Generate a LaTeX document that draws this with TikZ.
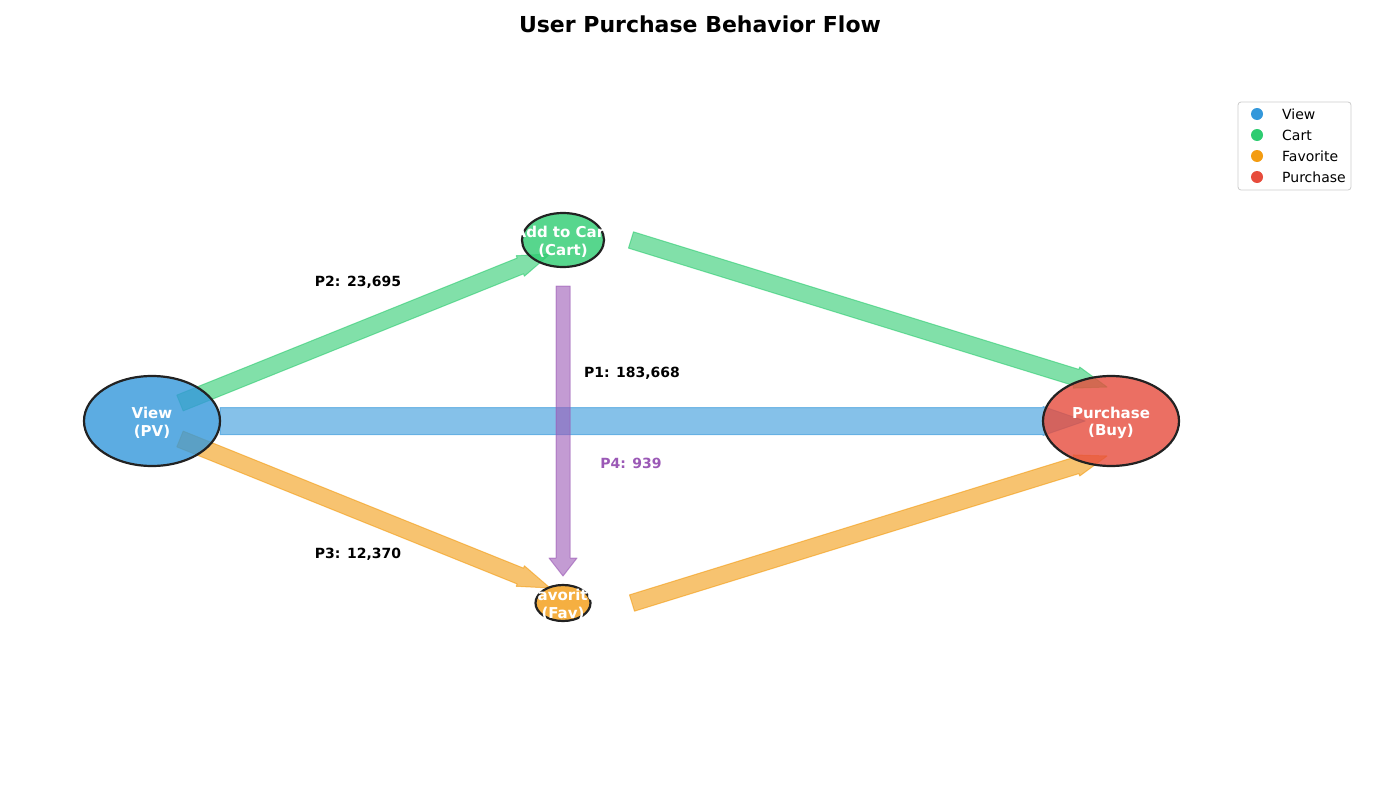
\documentclass[tikz,border=0pt]{standalone}
\usepackage{fontspec}
\setmainfont{DejaVu Sans}
\usetikzlibrary{shapes.geometric,calc}
\definecolor{cview}{HTML}{3498DB}
\definecolor{ccart}{HTML}{2ECC71}
\definecolor{cfav}{HTML}{F39C12}
\definecolor{cbuy}{HTML}{E74C3C}
\definecolor{cpfour}{HTML}{9B59B6}
\definecolor{cedge}{HTML}{222222}
\definecolor{cframe}{HTML}{CCCCCC}
% style, tail, tip, half shaft width, half head width, head length
\newcommand\flowarrow[6]{%
  \coordinate (fa-h) at ($(#3)!#6!(#2)$);
  \draw[#1] ($(#2)!#4!90:(#3)$) -- ($(fa-h)!#4!90:(#3)$) -- ($(fa-h)!#5!90:(#3)$) -- (#3)
    -- ($(fa-h)!#5!-90:(#3)$) -- ($(fa-h)!#4!-90:(#3)$) -- ($(#2)!#4!-90:(#3)$) -- cycle;
}
\begin{document}
\begin{tikzpicture}[x=1pt,y=-1pt,
  flow/.style={fill=#1, draw=#1, opacity=0.6, line width=1pt, line join=round},
  stage/.style={ellipse, draw=cedge, line width=2.2pt, fill=#1, fill opacity=0.8, inner sep=0},
  stagetxt/.style={text=white, font=\fontsize{15}{17.5}\selectfont\bfseries, align=center, inner sep=0},
  lab/.style={font=\fontsize{14}{16}\selectfont\bfseries, inner sep=0},
  lgdot/.style={circle, fill=#1, minimum size=12pt, inner sep=0},
  lgtxt/.style={anchor=west, inner sep=0, font=\fontsize{14}{16}\selectfont}]
\fill[white] (0,0) rectangle (1400,800);
\useasboundingbox (0,0) rectangle (1400,800);

\node[font=\fontsize{22}{26}\selectfont\bfseries] (title) at (700,24) {User Purchase Behavior Flow};

% arrow end points
\coordinate (vc-s) at (180,403);
\coordinate (vc-e) at (550,254);
\coordinate (vf-s) at (180,439);
\coordinate (vf-e) at (550,588);
\coordinate (cb-s) at (631,240);
\coordinate (cb-e) at (1107,387);
\coordinate (fb-s) at (632,603);
\coordinate (fb-e) at (1107,456);
\coordinate (vb-s) at (220,421);
\coordinate (vb-e) at (1085,421);
\coordinate (cf-s) at (563,286);
\coordinate (cf-e) at (563,576);

\flowarrow{flow=ccart}{vc-s}{vc-e}{8.5pt}{11pt}{32pt}
\flowarrow{flow=cfav}{vf-s}{vf-e}{8.5pt}{11pt}{32pt}
\flowarrow{flow=ccart}{cb-s}{cb-e}{8.5pt}{11pt}{32pt}
\flowarrow{flow=cfav}{fb-s}{fb-e}{8.5pt}{11pt}{32pt}
\flowarrow{flow=cview}{vb-s}{vb-e}{13.5pt}{14.5pt}{42pt}
\flowarrow{flow=cpfour}{cf-s}{cf-e}{7pt}{14pt}{18pt}

% stages
\node[stage=cview, minimum width=136pt, minimum height=90pt] (view) at (152,421) {};
\node[stage=ccart, minimum width=82pt, minimum height=54pt] (cart) at (563,240) {};
\node[stage=cfav, minimum width=55pt, minimum height=36pt] (fav) at (563,603) {};
\node[stage=cbuy, minimum width=136pt, minimum height=90pt] (buy) at (1111,421) {};
\node[stagetxt] (view-t) at ($(view)+(0,2)$) {View\\(PV)};
\node[stagetxt] (cart-t) at ($(cart)+(0,2)$) {Add to Cart\\(Cart)};
\node[stagetxt] (fav-t) at ($(fav)+(0,2)$) {Favorite\\(Fav)};
\node[stagetxt] (buy-t) at ($(buy)+(0,2)$) {Purchase\\(Buy)};

% labels
\node[lab] (p2) at (358,282) {P2: 23,695};
\node[lab] (p1) at (632,373) {P1: 183,668};
\node[lab, text=cpfour] (p4) at (631,463) {P4: 939};
\node[lab] (p3) at (358,554) {P3: 12,370};

% legend
\draw[cframe, fill=white, fill opacity=0.8, rounded corners=3pt, line width=0.8pt] (1238,102) rectangle (1351,190);
\node[lgdot=cview] (lg-view) at (1257,114) {};
\node[lgdot=ccart] (lg-cart) at (1257,135) {};
\node[lgdot=cfav] (lg-fav) at (1257,156) {};
\node[lgdot=cbuy] (lg-buy) at (1257,177) {};
\node[lgtxt] (lg-view-t) at (1282,114) {View};
\node[lgtxt] (lg-cart-t) at (1282,135) {Cart};
\node[lgtxt] (lg-fav-t) at (1282,156) {Favorite};
\node[lgtxt] (lg-buy-t) at (1282,177) {Purchase};
\end{tikzpicture}
\end{document}
